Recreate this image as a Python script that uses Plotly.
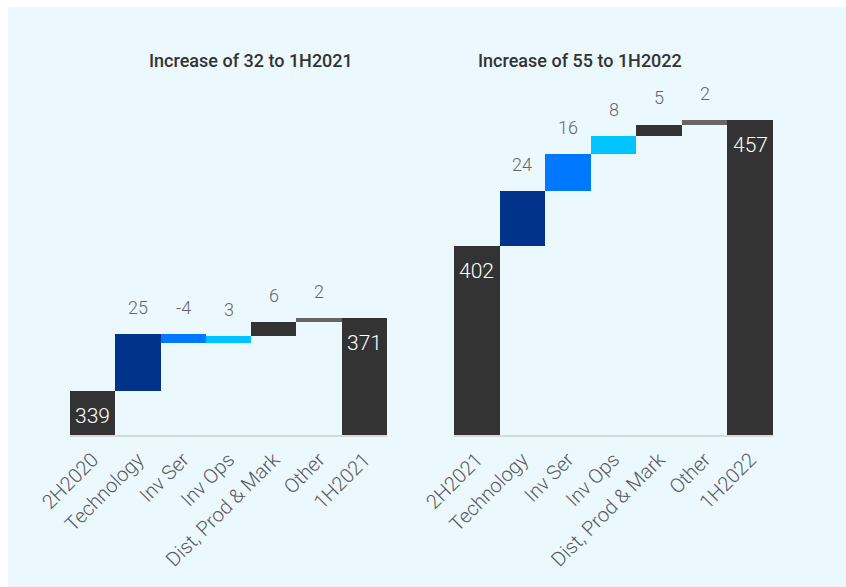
import plotly.graph_objects as go

# ---------------- data ----------------
cats_left = ["2H2020", "Technology", "Inv Ser", "Inv Ops", "Dist, Prod & Mark", "Other", "1H2021"]
vals_left = [339, 25, -4, 3, 6, 2, 371]
cats_right = ["2H2021", "Technology", "Inv Ser", "Inv Ops", "Dist, Prod & Mark", "Other", "1H2022"]
vals_right = [402, 24, 16, 8, 5, 2, 457]
measures = ["total", "relative", "relative", "relative", "relative", "relative", "total"]
title_left = "Increase of 32 to 1H2021"
title_right = "Increase of 55 to 1H2022"

colors = ["#333333", "#003389", "#0078FF", "#00C4FF", "#333333", "#666666", "#333333"]

W, H = 846, 587
BG = "#EBF8FE"


def waterfall_parts(vals, meas):
    bases, heights, tops = [], [], []
    running = 0
    for v, m in zip(vals, meas):
        if m == "total":
            bases.append(0)
            heights.append(v)
            running = v
            tops.append(v)
        else:
            new = running + v
            lo, hi = min(running, new), max(running, new)
            bases.append(lo)
            heights.append(hi - lo)
            tops.append(hi)
            running = new
    return bases, heights, tops


def px(x):
    return x / W


def py(y):
    return 1 - y / H


fig = go.Figure()
annotations = []

for cats, vals, xa, ya in [
    (cats_left, vals_left, "x", "y"),
    (cats_right, vals_right, "x2", "y2"),
]:
    bases, heights, tops = waterfall_parts(vals, measures)
    fig.add_trace(go.Bar(
        x=cats, y=heights, base=bases,
        marker=dict(color=colors, line=dict(width=0)),
        xaxis=xa, yaxis=ya, showlegend=False, hoverinfo="skip",
    ))
    for c, v, m, t in zip(cats, vals, measures, tops):
        if m == "total":
            annotations.append(dict(
                x=c, y=t, xref=xa, yref=ya, text=str(v), showarrow=False,
                yanchor="top", yshift=-11,
                font=dict(family="Roboto", size=21, color="#FFFFFF", weight=300),
            ))
        else:
            annotations.append(dict(
                x=c, y=t, xref=xa, yref=ya, text=str(v), showarrow=False,
                yanchor="bottom", yshift=14,
                font=dict(family="Roboto", size=18, color="#666666", weight=300),
            ))

for txt, cx in [(title_left, 250.5), (title_right, 579.5)]:
    annotations.append(dict(
        x=px(cx), y=py(61), xref="paper", yref="paper", text=txt,
        showarrow=False, xanchor="center", yanchor="middle",
        font=dict(family="Roboto", size=18, color="#333333", weight=500),
    ))

ydom = [py(435), py(67)]
xcommon = dict(
    type="category", showgrid=False, zeroline=False, showline=True,
    linecolor="#D9D9D9", linewidth=2, ticks="", tickangle=-45,
    tickfont=dict(family="Roboto", size=20, color="#5A5A5A", weight=300),
    ticklabelstandoff=3, automargin=False, fixedrange=True,
)
ycommon = dict(
    range=[320, 480], showgrid=False, zeroline=False, showline=False,
    showticklabels=False, ticks="", automargin=False, fixedrange=True,
)

fig.update_layout(
    width=W, height=H,
    margin=dict(l=0, r=0, t=0, b=0),
    paper_bgcolor="#FFFFFF",
    plot_bgcolor="rgba(0,0,0,0)",
    bargap=0,
    xaxis=dict(domain=[px(70), px(387)], anchor="y", **xcommon),
    xaxis2=dict(domain=[px(454), px(773)], anchor="y2", **xcommon),
    yaxis=dict(domain=ydom, anchor="x", **ycommon),
    yaxis2=dict(domain=ydom, anchor="x2", **ycommon),
    annotations=annotations,
    shapes=[dict(
        type="rect", xref="paper", yref="paper",
        x0=px(8), x1=1, y0=0, y1=py(7),
        fillcolor=BG, line=dict(width=0), layer="below",
    )],
)

fig.write_html(
    "out.html",
    config={"displayModeBar": False},
    post_script="document.body.style.margin='0';document.body.style.overflow='hidden';",
)
